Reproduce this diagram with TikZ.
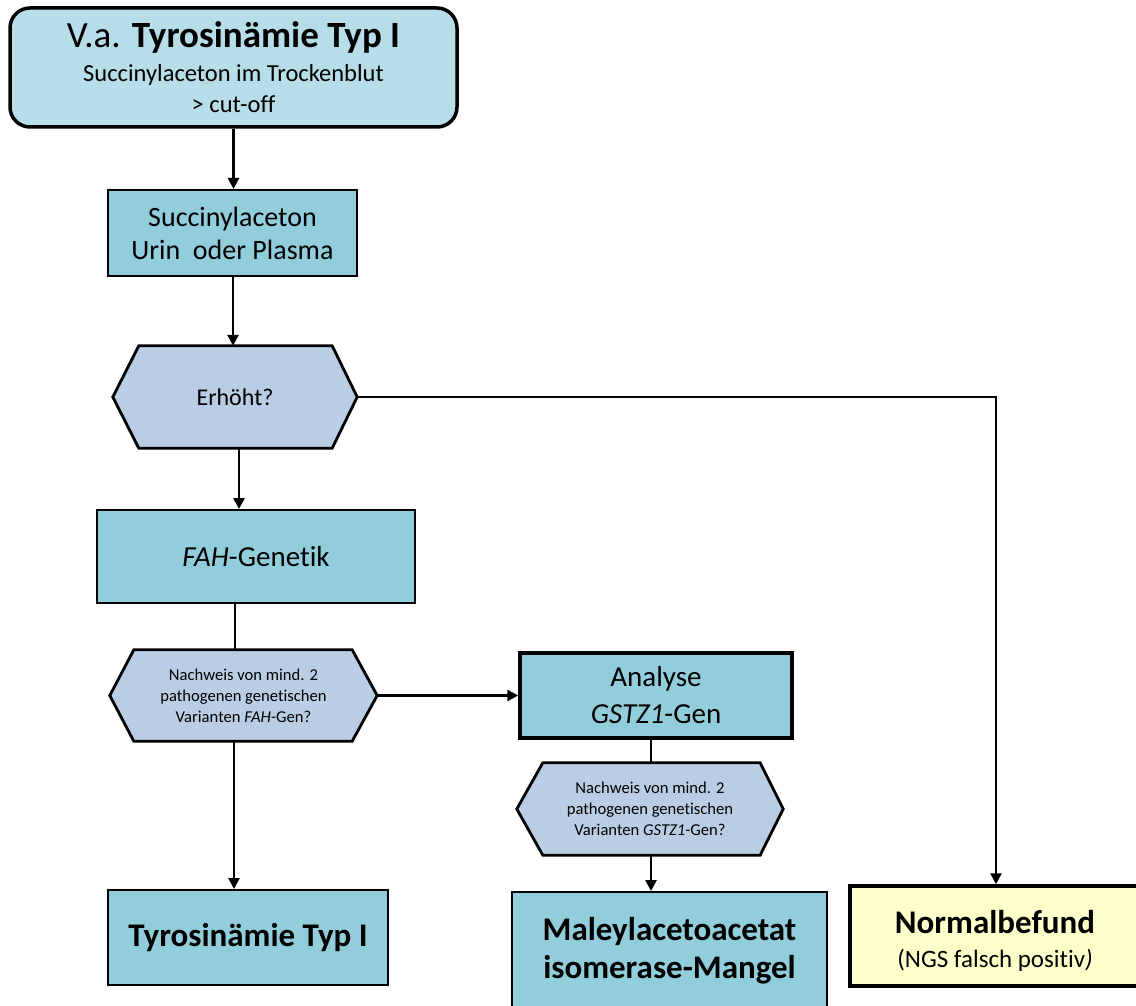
\documentclass[tikz,border=0pt]{standalone}
\usepackage{fontspec}
\setmainfont{Carlito}[Ligatures={NoCommon}]
\usetikzlibrary{arrows.meta,backgrounds}
\definecolor{topfill}{HTML}{B7DDE8}
\definecolor{boxfill}{HTML}{92CDDC}
\definecolor{hexfill}{HTML}{B9CDE5}
\definecolor{normfill}{HTML}{FFFFCC}
\newcommand{\fs}[2]{\fontsize{#1}{#2}\selectfont}
\begin{document}
\begin{tikzpicture}[x=1pt,y=-1pt,
  arr/.style={line width=2.6pt,-{Triangle[length=11pt,width=11pt]}},
  ln/.style={line width=2.6pt},
  rbox/.style={draw, line width=2pt, fill=boxfill, inner sep=0pt, align=center},
  thickbox/.style={rbox, line width=3.5pt},
  hexnode/.style={inner sep=0pt, align=center},
  hexline/.style={draw, line width=2.8pt, fill=hexfill, line join=miter}
]
\useasboundingbox (0,0) rectangle (1136,1006);

\node (top) [draw, line width=3.5pt, fill=topfill, rounded corners=20pt, minimum width=447pt, minimum height=119pt, inner sep=0pt, align=center, font=\fs{24.5}{31}] at (233.5,67.5)
  {{\fs{37}{40}V.a. \textbf{Tyrosinämie Typ I}}\\[3pt]
   Succinylaceton im Trockenblut\\
   > cut-off};

\node (box2) [rbox, minimum width=249pt, minimum height=86pt, font=\fs{28}{33}] at (232.5,233)
  {Succinylaceton\\ Urin\ \ oder Plasma};

\node (hex1) [hexnode, minimum width=244pt, minimum height=102pt, font=\fs{24}{28}] at (235,397) {Erhöht?};

\node (fah) [rbox, minimum width=318pt, minimum height=93pt, font=\fs{29}{34}] at (256,556.5) {\textit{FAH}-Genetik};

\node (hex2) [hexnode, minimum width=267pt, minimum height=91pt, font=\fs{16.6}{21}] at (243.5,695.5)
  {Nachweis von mind. 2\\ pathogenen genetischen\\ Varianten \textit{FAH}-Gen?};

\node (ana) [thickbox, minimum width=272pt, minimum height=85pt, font=\fs{29}{37}] at (656,695.5)
  {Analyse\\ \textit{GSTZ1}-Gen};

\node (hex3) [hexnode, minimum width=266pt, minimum height=92pt, font=\fs{16.6}{21}] at (650,809)
  {Nachweis von mind. 2\\ pathogenen genetischen\\ Varianten \textit{GSTZ1}-Gen?};

\node (tyro) [rbox, minimum width=280pt, minimum height=95pt, font=\fs{33}{38}\bfseries] at (248,937.5)
  {Tyrosinämie Typ I};

\node (mal) [rbox, minimum width=315pt, minimum height=130pt] at (669.5,957)
  {};
\node (maltext) [inner sep=0pt, align=center, font=\fs{33}{38}\bfseries] at (669.5,951)
  {Maleylacetoacetat\\ isomerase-Mangel};

\node (norm) [thickbox, fill=normfill, minimum width=290pt, minimum height=100pt, font=\fs{25}{34}] at (995,936)
  {};
\node (normtext) [inner sep=0pt, align=center, font=\fs{25}{34}] at (995,941)
  {{\fs{33}{36}\bfseries Normalbefund}\\ (NGS falsch positiv\textit{)}};

\begin{scope}[on background layer]
  \path[hexline] ([xshift=26pt]hex1.north west) -- ([xshift=-25pt]hex1.north east) -- (hex1.east)
    -- ([xshift=-25pt]hex1.south east) -- ([xshift=26pt]hex1.south west) -- (hex1.west) -- cycle;
  \path[hexline] ([xshift=24pt]hex2.north west) -- ([xshift=-25pt]hex2.north east) -- (hex2.east)
    -- ([xshift=-25pt]hex2.south east) -- ([xshift=24pt]hex2.south west) -- (hex2.west) -- cycle;
  \path[hexline] ([xshift=26pt]hex3.north west) -- ([xshift=-23pt]hex3.north east) -- (hex3.east)
    -- ([xshift=-23pt]hex3.south east) -- ([xshift=26pt]hex3.south west) -- (hex3.west) -- cycle;
\end{scope}

\draw[arr] (top.south) -- (top.south |- box2.north);
\draw[arr] ([xshift=0.5pt]box2.south) -- ([xshift=0.5pt]box2.south |- hex1.north);
\draw[arr] ([xshift=4pt]hex1.south) -- ([xshift=4pt]hex1.south |- fah.north);
\draw[ln] ([xshift=-21pt]fah.south) -- ([xshift=-21pt]fah.south |- hex2.north);
\draw[arr] (hex2.east) -- (hex2.east -| ana.west);
\draw[arr] ([xshift=-9.5pt]hex2.south) -- ([xshift=-9.5pt]hex2.south |- tyro.north);
\draw[ln] ([xshift=-5pt]ana.south) -- ([xshift=-5pt]ana.south |- hex3.north);
\draw[arr] ([xshift=1pt]hex3.south) -- ([xshift=1pt]hex3.south |- mal.north);
\draw[arr] (hex1.east) -| ([xshift=1pt]norm.north);
\end{tikzpicture}
\end{document}
